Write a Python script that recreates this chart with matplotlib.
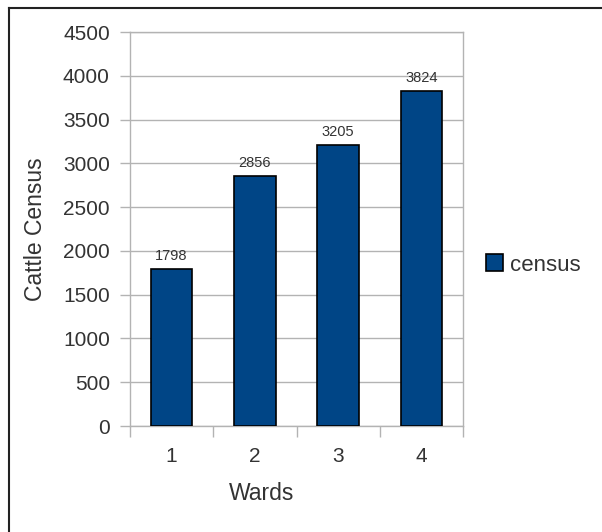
import matplotlib
matplotlib.use("Agg")
import matplotlib.pyplot as plt
from matplotlib.lines import Line2D
import numpy as np

# dados do gráfico
wards = ["1", "2", "3", "4"]
census = [1798, 2856, 3205, 3824]
series_name = "census"

plt.rcParams['font.family'] = ['Liberation Sans', 'DejaVu Sans']
text_color = '#333333'
grid_color = '#b3b3b3'
bar_color = '#004586'

W, H = 602, 532
fig = plt.figure(figsize=(W / 100, H / 100), dpi=100)
ax = fig.add_axes([130 / W, 1 - 426 / H, (463 - 130) / W, (426 - 32) / H])

x = np.arange(1, len(wards) + 1)
bars = ax.bar(x, census, width=0.5, color=bar_color, edgecolor='black',
              linewidth=1.2, label=series_name, zorder=3)

# rótulos de dados acima das barras
for xi, v in zip(x, census):
    ax.annotate(str(v), (xi, v), xytext=(0, 6.5), textcoords='offset points',
                ha='center', va='baseline', fontsize=10.5, color=text_color)

ax.set_xlim(0.5, 4.5)
ax.set_ylim(0, 4500)
ax.set_yticks(np.arange(0, 4501, 500))
ax.yaxis.grid(True, color=grid_color, linewidth=1, zorder=0)
ax.set_axisbelow(True)

# marcas do eixo x nas divisões entre categorias, rótulos no centro
ax.set_xticks(np.arange(0.5, 4.6, 1.0))
ax.set_xticklabels([])
ax.set_xticks(x, minor=True)
ax.set_xticklabels(wards, minor=True)
ax.tick_params(axis='x', which='major', length=8, width=1, color=grid_color)
ax.tick_params(axis='x', which='minor', length=0, pad=15, labelsize=15,
               labelcolor=text_color)
ax.tick_params(axis='y', length=7.5, width=1, color=grid_color, pad=7,
               labelsize=15, labelcolor=text_color)

for s in ax.spines.values():
    s.set_color(grid_color)
    s.set_linewidth(1)

fig.text(262 / W, 1 - 493 / H, "Wards", ha='center', va='center',
         fontsize=16.5, color=text_color)
fig.text(35 / W, 1 - 229 / H, "Cattle Census", ha='center', va='center',
         rotation=90, fontsize=16.5, color=text_color)

ax.legend(loc='center left', bbox_to_anchor=(486 / W, 1 - 265 / H),
          bbox_transform=fig.transFigure, frameon=False, fontsize=16,
          handlelength=0.77, handleheight=0.77, handletextpad=0.3,
          borderpad=0, borderaxespad=0, labelcolor=text_color)

# moldura externa (cortada à direita e embaixo)
fig.add_artist(Line2D([8.5 / W, 1.0], [1 - 7.5 / H, 1 - 7.5 / H], color='#222222', lw=1.5))
fig.add_artist(Line2D([8.5 / W, 8.5 / W], [0, 1 - 7.5 / H], color='#222222', lw=1.5))

fig.savefig("out.png", dpi=100)
